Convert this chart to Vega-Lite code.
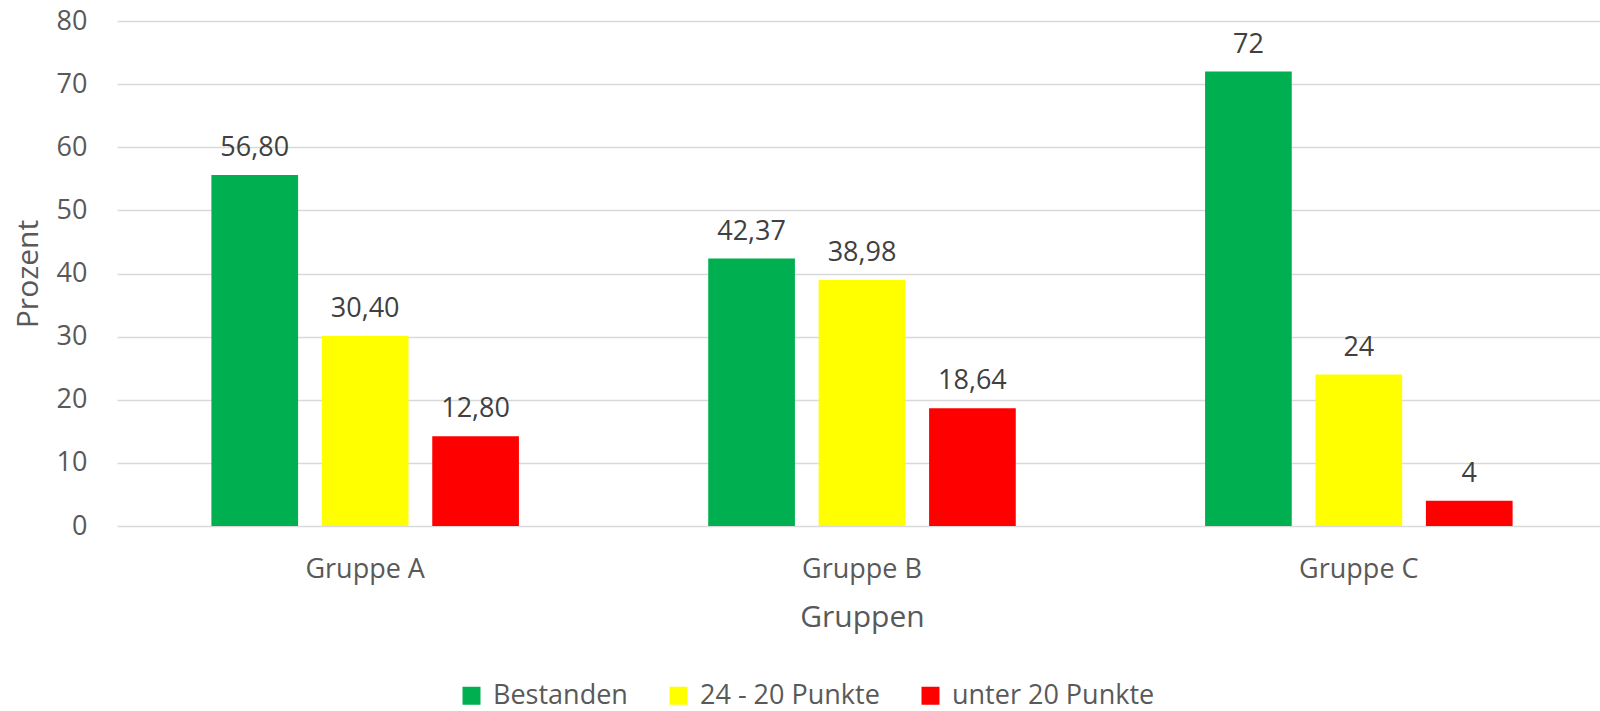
{
  "$schema": "https://vega.github.io/schema/vega-lite/v6.json",
  "width": 1490,
  "height": 505,
  "autosize": {"type": "none"},
  "padding": {"left": 117, "top": 21, "right": 0, "bottom": 185},
  "background": "white",
  "config": {
    "font": "Open Sans",
    "view": {"stroke": null},
    "axis": {"labelFont": "Open Sans", "titleFont": "Open Sans", "labelColor": "#595959", "titleColor": "#595959", "titleFontWeight": "normal"}
  },
  "data": {
    "values": [
      {"gruppe": "Gruppe A", "kategorie": "Bestanden", "wert": 55.6, "label": "56,80"},
      {"gruppe": "Gruppe A", "kategorie": "24 - 20 Punkte", "wert": 30.1, "label": "30,40"},
      {"gruppe": "Gruppe A", "kategorie": "unter 20 Punkte", "wert": 14.2, "label": "12,80"},
      {"gruppe": "Gruppe B", "kategorie": "Bestanden", "wert": 42.37, "label": "42,37"},
      {"gruppe": "Gruppe B", "kategorie": "24 - 20 Punkte", "wert": 38.98, "label": "38,98"},
      {"gruppe": "Gruppe B", "kategorie": "unter 20 Punkte", "wert": 18.64, "label": "18,64"},
      {"gruppe": "Gruppe C", "kategorie": "Bestanden", "wert": 72, "label": "72"},
      {"gruppe": "Gruppe C", "kategorie": "24 - 20 Punkte", "wert": 24, "label": "24"},
      {"gruppe": "Gruppe C", "kategorie": "unter 20 Punkte", "wert": 4, "label": "4"}
    ]
  },
  "encoding": {
    "x": {
      "field": "gruppe",
      "type": "nominal",
      "scale": {"paddingInner": 0.381, "paddingOuter": 0.19},
      "axis": {
        "title": "Gruppen",
        "labelAngle": 0,
        "labelFontSize": 27,
        "titleFontSize": 30,
        "domain": false,
        "ticks": false,
        "tickSize": 0,
        "labelPadding": 30,
        "titlePadding": 20
      }
    },
    "xOffset": {
      "field": "kategorie",
      "type": "nominal",
      "sort": ["Bestanden", "24 - 20 Punkte", "unter 20 Punkte"],
      "scale": {"paddingInner": 0.215, "paddingOuter": 0}
    },
    "y": {
      "field": "wert",
      "type": "quantitative",
      "scale": {"domain": [0, 80]},
      "axis": {
        "title": "Prozent",
        "values": [0, 10, 20, 30, 40, 50, 60, 70, 80],
        "labelFontSize": 27,
        "titleFontSize": 30,
        "domain": false,
        "ticks": false,
        "tickSize": 0,
        "labelPadding": 30,
        "titlePadding": 13,
        "gridColor": "#d9d9d9",
        "gridWidth": 1.5
      }
    }
  },
  "layer": [
    {
      "mark": {"type": "bar"},
      "encoding": {
        "color": {
          "field": "kategorie",
          "type": "nominal",
          "scale": {
            "domain": ["Bestanden", "24 - 20 Punkte", "unter 20 Punkte"],
            "range": ["#00B050", "#FFFF00", "#FF0000"]
          },
          "legend": {
            "title": null,
            "orient": "none",
            "direction": "horizontal",
            "legendX": 341,
            "legendY": 661,
            "symbolType": "square",
            "symbolSize": 324,
            "symbolStrokeWidth": 0,
            "labelFontSize": 27,
            "labelColor": "#595959",
            "labelFont": "Open Sans",
            "labelOffset": 8,
            "labelLimit": 500,
            "columnPadding": 37
          }
        }
      }
    },
    {
      "mark": {"type": "text", "baseline": "alphabetic", "dy": -19, "fontSize": 27, "color": "#404040", "font": "Open Sans"},
      "encoding": {"text": {"field": "label"}}
    }
  ]
}
